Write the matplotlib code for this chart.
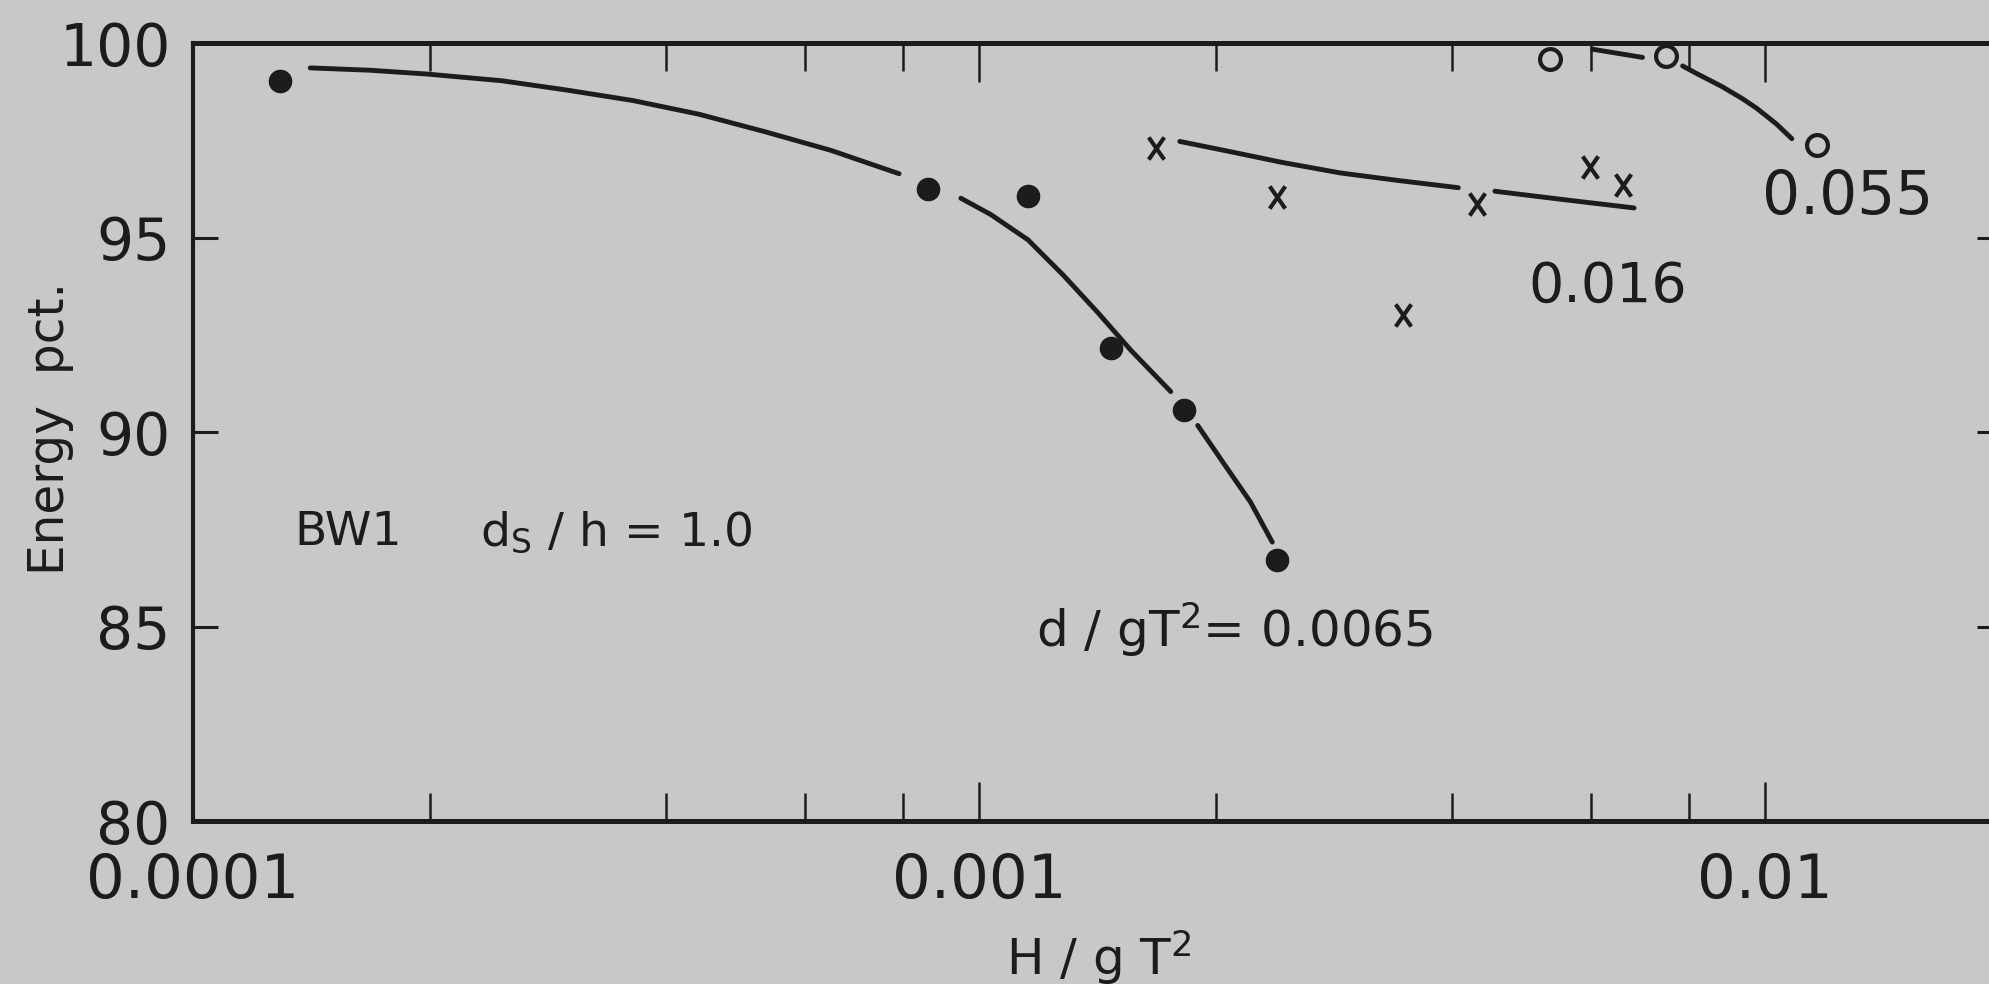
import numpy as np
import matplotlib.pyplot as plt
import matplotlib.ticker as mticker
from matplotlib.path import Path

plt.rcParams['font.family'] = 'DejaVu Sans'
plt.rcParams['mathtext.default'] = 'regular'

nan = np.nan

# d/gT^2 = 0.0065  (filled dots)
h_0065 = [1.29e-4, 8.61e-4, 1.154e-3, 1.47e-3, 1.82e-3, 2.39e-3]
e_0065 = [99.03, 96.24, 96.07, 92.17, 90.57, 86.72]
# hand drawn fit, broken where it passes the dots
fit_h_0065 = [1.41e-4, 1.68e-4, 1.99e-4, 2.47e-4, 2.99e-4, 3.63e-4, 4.40e-4, 5.34e-4, 6.48e-4, 7.91e-4, nan,
              9.48e-4, 1.035e-3, 1.154e-3, 1.28e-3, 1.416e-3, 1.56e-3, 1.753e-3, nan,
              1.897e-3, 2.046e-3, 2.214e-3, 2.36e-3]
fit_e_0065 = [99.36, 99.30, 99.20, 99.03, 98.79, 98.52, 98.17, 97.72, 97.24, 96.64, nan,
              96.01, 95.59, 94.94, 94.03, 93.07, 92.10, 91.04, nan,
              90.17, 89.20, 88.20, 87.17]

# d/gT^2 = 0.016  (crosses)
h_016 = [1.68e-3, 2.39e-3, 3.46e-3, 4.30e-3, 5.98e-3, 6.59e-3]
e_016 = [97.29, 96.04, 93.0, 95.86, 96.81, 96.34]
fit_h_016 = [1.80e-3, 2.06e-3, 2.43e-3, 2.88e-3, 3.40e-3, 4.07e-3, nan, 4.53e-3, 5.56e-3, 6.81e-3]
fit_e_016 = [97.47, 97.23, 96.93, 96.66, 96.47, 96.28, nan, 96.19, 95.97, 95.76]

# d/gT^2 = 0.055  (open circles)
h_055 = [5.32e-3, 7.48e-3, 1.164e-2]
e_055 = [99.58, 99.66, 97.37]
fit_h_055 = [6.03e-3, 6.98e-3, nan, 7.85e-3, 8.17e-3, 8.81e-3, 9.35e-3, 9.74e-3, 1.033e-2, 1.081e-2]
fit_e_055 = [99.84, 99.63, nan, 99.41, 99.22, 98.88, 98.57, 98.33, 97.92, 97.54]

x_ticks = [1e-4, 1e-3, 1e-2]
x_tick_labels = ['0.0001', '0.001', '0.01']
y_ticks = [80, 85, 90, 95, 100]

bg = '#c7c9c8'
ink = '#1c1c1c'

fig = plt.figure(figsize=(19.89, 9.84), dpi=100)
fig.patch.set_facecolor(bg)
ax = fig.add_axes([0.0970, 0.1656, 0.9095, 0.7907])
ax.set_facecolor(bg)

ax.set_xscale('log')
ax.set_xlim(1e-4, 2e-2)
ax.set_ylim(80, 100)

ax.set_xticks(x_ticks, labels=x_tick_labels)
ax.xaxis.set_minor_locator(mticker.LogLocator(base=10, subs=(2, 4, 6, 8)))
ax.xaxis.set_minor_formatter(mticker.NullFormatter())
ax.set_yticks(y_ticks)

ax.tick_params(axis='x', which='major', direction='in', top=True, length=28, width=1.8,
               labelsize=44, pad=22, colors=ink)
ax.tick_params(axis='x', which='minor', direction='in', top=True, length=20, width=1.8, colors=ink)
ax.tick_params(axis='y', direction='in', right=True, length=18, width=2.2,
               labelsize=42, pad=16, colors=ink)

for side in ['top', 'bottom']:
    ax.spines[side].set_linewidth(3.6)
for side in ['left', 'right']:
    ax.spines[side].set_linewidth(3.0)
for s in ax.spines.values():
    s.set_color(ink)

# curves
ax.plot(fit_h_0065, fit_e_0065, color=ink, lw=3.5, solid_capstyle='round')
ax.plot(fit_h_016, fit_e_016, color=ink, lw=3.5, solid_capstyle='round')
ax.plot(fit_h_055, fit_e_055, color=ink, lw=3.5, solid_capstyle='round')

# points
xmark = Path([(-0.7, -1), (0.7, 1), (-0.7, 1), (0.7, -1)],
             [Path.MOVETO, Path.LINETO, Path.MOVETO, Path.LINETO])
ax.plot(h_0065, e_0065, 'o', color=ink, ms=16, ls='none')
ax.plot(h_016, e_016, marker=xmark, color=ink, mfc='none', ms=16, mew=3, ls='none')
ax.plot(h_055, e_055, 'o', mec=ink, mfc=bg, ms=15, mew=3, ls='none')

# annotations
ax.text(1.346e-4, 87.09, 'BW1', fontsize=34, color=ink, va='baseline')
ax.text(2.32e-4, 87.09, 'd$_S$ / h = 1.0', fontsize=34, color=ink, va='baseline')
ax.text(1.18e-3, 84.48, 'd / gT$^2$= 0.0065', fontsize=36, color=ink, va='baseline')
ax.text(5.0e-3, 93.35, '0.016', fontsize=40, color=ink, va='baseline')
ax.text(9.91e-3, 95.6, '0.055', fontsize=43, color=ink, va='baseline')

ax.set_xlabel('H / g T$^{2}$', fontsize=36, color=ink)
ax.xaxis.set_label_coords(0.501, -0.137)
ax.set_ylabel('Energy  pct.', fontsize=35, color=ink)
ax.yaxis.set_label_coords(-0.066, 0.505)

fig.savefig('out.png', dpi=100, facecolor=bg)
